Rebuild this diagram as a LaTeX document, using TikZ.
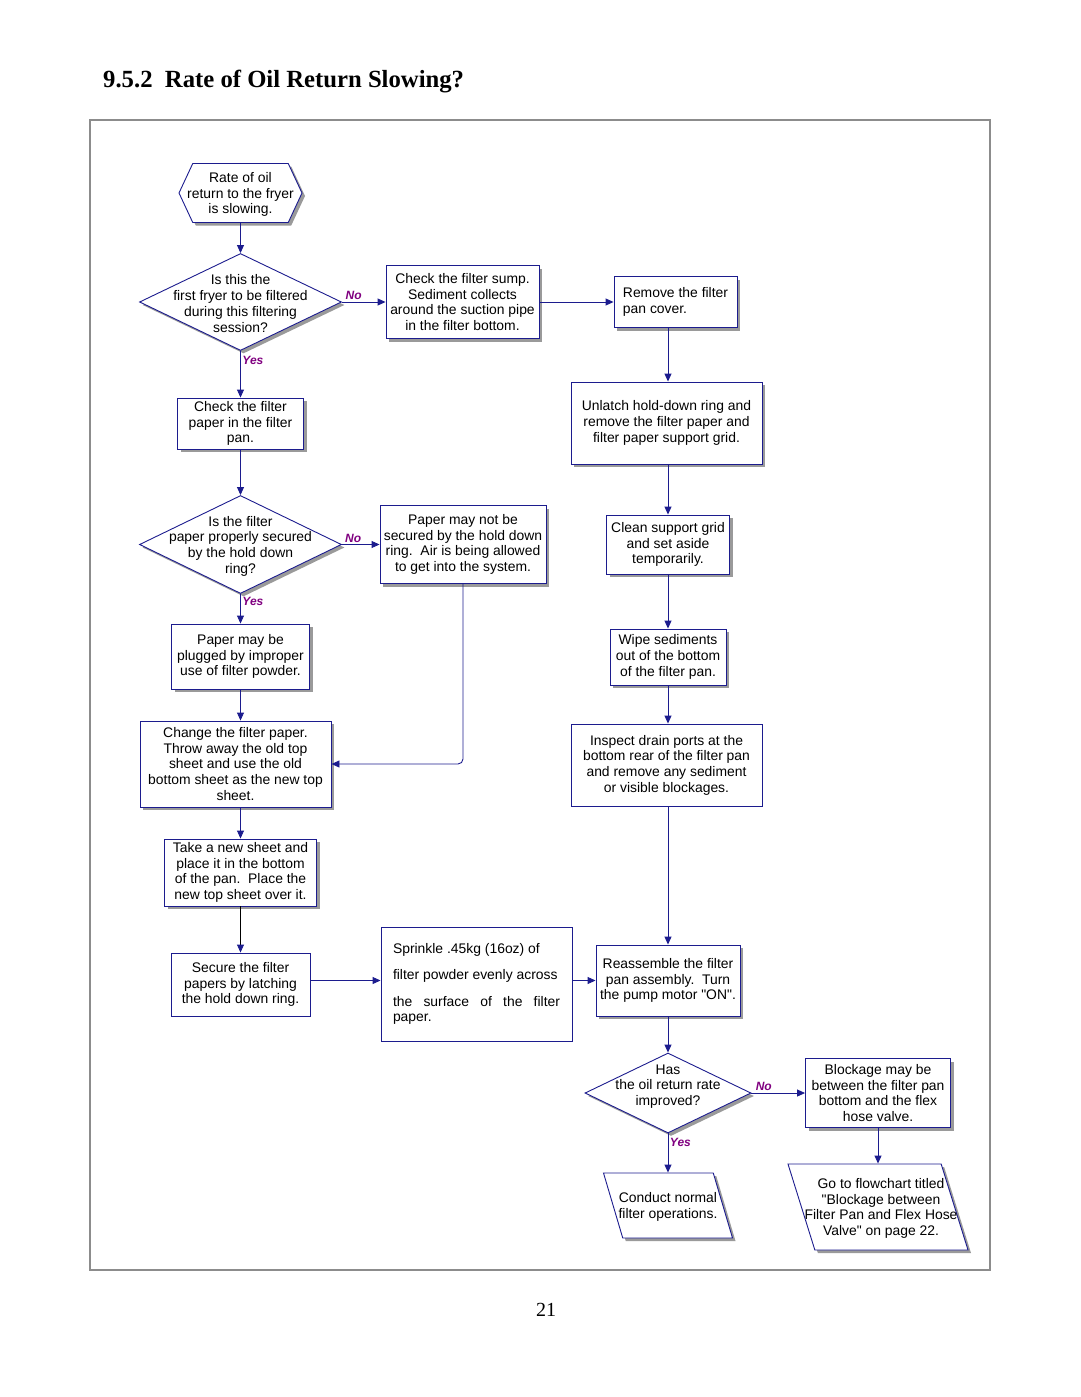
\documentclass[tikz,border=0pt]{standalone}
\usepackage{fontspec}
\setmainfont{Liberation Serif}
\newfontfamily\flowfont{Liberation Sans}
\usetikzlibrary{arrows.meta,shapes.geometric,shapes.symbols,shadows}
\definecolor{flowblue}{HTML}{1C1C8E}
\definecolor{yesno}{HTML}{800080}
\definecolor{shade}{HTML}{9A9A9A}
\definecolor{framegray}{HTML}{8C8C8C}

\begin{document}
\begin{tikzpicture}[x=1pt,y=-1pt,
font=\flowfont\fontsize{13.9}{15.7}\selectfont,
shad/.style={general shadow={fill=shade,shadow xshift=3pt,shadow yshift=-3pt}},
stepbox/.style={draw=flowblue,line width=0.9pt,fill=white,align=center,inner sep=1pt},
dec/.style={diamond,draw=flowblue,line width=0.9pt,fill=white,inner sep=0pt,shad},
io/.style={trapezium,trapezium left angle=102,trapezium right angle=78,trapezium stretches=true,draw=flowblue,line width=0.9pt,fill=white,inner sep=1pt,shad},
term/.style={signal,signal to=west and east,signal pointer angle=130,draw=flowblue,line width=0.9pt,fill=white,inner sep=0pt,shad},
intext/.style={align=center,inner sep=0pt,yshift=-1.5pt},
arr/.style={-{Triangle[length=8pt,width=7pt]},line width=0.9pt,color=flowblue},
yn/.style={font=\flowfont\bfseries\itshape\fontsize{12}{12}\selectfont,text=yesno,inner sep=1.5pt}
]
\useasboundingbox (0,0) rectangle (1080,1397);

% heading, frame and page number
\node[anchor=base west,inner sep=0pt,font=\bfseries\fontsize{24.7}{28}\selectfont] (title) at (103,87) {9.5.2\ \ Rate of Oil Return Slowing?};
\draw[framegray,line width=2.5pt] (90,120) rectangle (990,1270);
\node[anchor=base,font=\fontsize{20}{24}\selectfont] (pagenum) at (546,1316) {21};

% left column
\node[term,minimum width=123,minimum height=59,label={[intext]center:{Rate of oil\\return to the fryer\\is slowing.}}] (start) at (240.5,193) {};
\node[dec,minimum width=202,minimum height=97,label={[intext]center:{Is this the\\first fryer to be filtered\\during this filtering\\session?}}] (q1) at (240.5,302) {};
\node[stepbox,shad,minimum width=126,minimum height=51] (chk) at (240.5,423.5) {Check the filter\\paper in the filter\\pan.};
\node[dec,minimum width=202,minimum height=98,label={[intext]center:{Is the filter\\paper properly secured\\by the hold down\\ring?}}] (q2) at (240.5,544.5) {};
\node[stepbox,shad,minimum width=138,minimum height=65] (plugged) at (240.5,656.5) {Paper may be\\plugged by improper\\use of filter powder.};
\node[stepbox,shad,minimum width=191,minimum height=86] (change) at (235.5,764) {Change the filter paper.\\Throw away the old top\\sheet and use the old\\bottom sheet as the new top\\sheet.};
\node[stepbox,shad,minimum width=152,minimum height=67] (take) at (240.5,872.5) {Take a new sheet and\\place it in the bottom\\of the pan.\ \ Place the\\new top sheet over it.};
\node[stepbox,minimum width=139,minimum height=63] (secure) at (240.5,984.5) {Secure the filter\\papers by latching\\the hold down ring.};

% middle column
\node[stepbox,shad,minimum width=153,minimum height=73] (sump) at (462.5,302) {Check the filter sump.\\Sediment collects\\around the suction pipe\\in the filter bottom.};
\node[stepbox,shad,minimum width=166,minimum height=78] (maynot) at (463,544.5) {Paper may not be\\secured by the hold down\\ring.\ \ Air is being allowed\\to get into the system.};
\node[stepbox,minimum width=191,minimum height=114,align=left] (sprinkle) at (476.5,984) {Sprinkle .45kg (16oz) of\\[10.3pt]filter powder evenly across\\[11.3pt]\makebox[167pt][s]{the surface of the filter}\\paper.};

% right column
\node[stepbox,shad,minimum width=123,minimum height=51,align=left] (cover) at (675.5,302) {Remove the filter\\pan cover.};
\node[stepbox,shad,minimum width=191,minimum height=82] (unlatch) at (666.5,423) {Unlatch hold-down ring and\\remove the filter paper and\\filter paper support grid.};
\node[stepbox,shad,minimum width=123,minimum height=59] (grid) at (668,544.5) {Clean support grid\\and set aside\\temporarily.};
\node[stepbox,shad,minimum width=116,minimum height=56] (wipe) at (668,657) {Wipe sediments\\out of the bottom\\of the filter pan.};
\node[stepbox,minimum width=191,minimum height=82] (inspect) at (666.5,765) {Inspect drain ports at the\\bottom rear of the filter pan\\and remove any sediment\\or visible blockages.};
\node[stepbox,shad,minimum width=144,minimum height=71] (reass) at (668,980.5) {Reassemble the filter\\pan assembly.\ \ Turn\\the pump motor "ON".};
\node[dec,minimum width=166,minimum height=80,label={[intext,yshift=8pt]center:{Has\\the oil return rate\\improved?}}] (q3) at (668,1093) {};
\node[stepbox,shad,minimum width=145,minimum height=69] (block) at (878,1093) {Blockage may be\\between the filter pan\\bottom and the flex\\hose valve.};
\node[io,minimum width=129,minimum height=65,label={[intext]center:{Conduct normal\\filter operations.}}] (conduct) at (668,1205.5) {};
\node[io,minimum width=180,minimum height=86,label={[intext,xshift=3pt]center:{Go to flowchart titled\\"Blockage between\\Filter Pan and Flex Hose\\Valve" on page 22.}}] (goto) at (878,1207) {};

% connectors
\draw[arr] (start) -- (q1);
\draw[arr] (q1) -- node[yn,above,pos=0.27] (no1) {No} (sump);
\draw[arr] (q1) -- node[yn,right,pos=0.21] (yes1) {Yes} (chk);
\draw[arr] (sump) -- (cover);
\draw[arr] (cover.south -| wipe) -- (wipe |- unlatch.north);
\draw[arr] (chk) -- (q2);
\draw[arr] (q2) -- node[yn,above,pos=0.3] (no2) {No} (maynot);
\draw[arr] (q2) -- node[yn,right,pos=0.25] (yes2) {Yes} (plugged);
\draw[arr,rounded corners=5pt] (maynot) |- (change);
\draw[arr] (unlatch.south -| wipe) -- (grid);
\draw[arr] (grid) -- (wipe);
\draw[arr] (plugged) -- (plugged |- change.north);
\draw[arr] (wipe) -- (wipe |- inspect.north);
\draw[arr] (change.south -| take) -- (take);
\draw[arr] (inspect.south -| wipe) -- (reass);
\draw[-{Triangle[length=8pt,width=7pt,color=flowblue]},line width=0.9pt,black] (take) -- (secure);
\draw[arr] (secure.east |- reass) -- (sprinkle.west |- reass);
\draw[arr] (sprinkle.east |- reass) -- (reass);
\draw[arr] (reass) -- (q3);
\draw[arr] (q3) -- node[yn,above,pos=0.23] (no3) {No} (block);
\draw[arr] (q3) -- node[yn,right,pos=0.22] (yes3) {Yes} (conduct);
\draw[arr] (block) -- (goto);
\end{tikzpicture}
\end{document}
